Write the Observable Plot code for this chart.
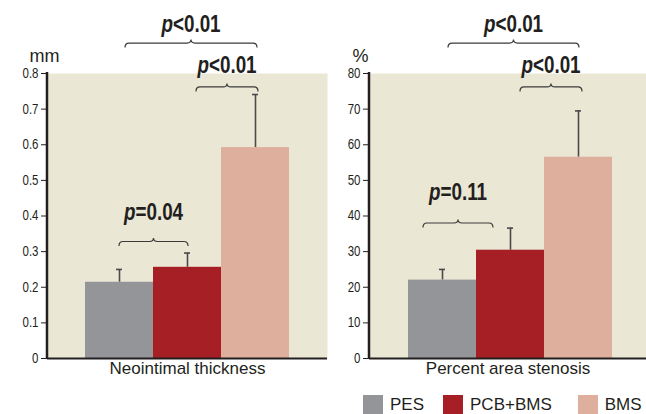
<!DOCTYPE html>
<html>
<head>
<meta charset="utf-8">
<script src="https://cdn.jsdelivr.net/npm/d3@7"></script>
<script src="https://cdn.jsdelivr.net/npm/@observablehq/plot@0.6"></script>
<style>
  html, body { margin: 0; padding: 0; background: #ffffff; }
  #wrap { position: relative; width: 646px; height: 414px; display: flex; overflow: hidden; }
  #wrap > svg { display: block; }
  #legend { position: absolute; left: 363px; top: 395px; width: 283px; white-space: nowrap; }
  #legend div { font: 17px "Liberation Sans", Arial, sans-serif !important; color: #231f20 !important;
                margin: 0 !important; min-height: 0 !important; display: flex !important;
                flex-wrap: nowrap !important; align-items: center !important; }
  #legend span { margin-right: 20px !important; display: inline-flex !important; align-items: center !important; }
  #legend span:nth-of-type(1) { margin-right: 19px !important; }
  #legend span:nth-of-type(2) { margin-right: 26px !important; }
  #legend span > svg { margin-right: 7px !important; }
</style>
</head>
<body>
<div id="wrap"><div id="legend"></div></div>
<script>
// ---------- data ----------
const groups = ["PES", "PCB+BMS", "BMS"];
const colors = ["#939598", "#a61f24", "#dfaf9d"];

const thicknessMean = [0.214, 0.256, 0.592];
const thicknessSD   = [0.036, 0.040, 0.149];
const thicknessTicks = [0, 0.1, 0.2, 0.3, 0.4, 0.5, 0.6, 0.7, 0.8];
const thicknessUnit = "mm";
const thicknessTitle = "Neointimal thickness";

const stenosisMean = [22.0, 30.4, 56.5];
const stenosisSD   = [3.0, 6.2, 13.0];
const stenosisTicks = [0, 10, 20, 30, 40, 50, 60, 70, 80];
const stenosisUnit = "%";
const stenosisTitle = "Percent area stenosis";

// comparisons: from group, to group, bracket level, label level, operator text
const thicknessFrom  = ["PES", "PCB+BMS", "PES"];
const thicknessTo    = ["BMS", "BMS", "PCB+BMS"];
const thicknessBrace = [0.884, 0.761, 0.327];
const thicknessLabY  = [0.915, 0.800, 0.387];
const thicknessP     = ["<0.01", "<0.01", "=0.04"];

const stenosisFrom  = ["PES", "PCB+BMS", "PES"];
const stenosisTo    = ["BMS", "BMS", "PCB+BMS"];
const stenosisBrace = [88.4, 76.1, 37.9];
const stenosisLabY  = [91.5, 80.0, 44.4];
const stenosisP     = ["<0.01", "<0.01", "=0.11"];

// ---------- layout (pixel nudges of bracket ends) ----------
const thicknessNudge = [[6, 2], [9, 3], [0, 1]];
const stenosisNudge  = [[6, 1], [10, 4], [-19, -17]];

const INK = "#231f20";
const ERR = "#4a4a4c";
const BG  = "#ebe7d5";
const NARROW = 0.82;

function rows(means, sds) {
  return groups.map((g, i) => ({group: g, value: means[i], sd: sds[i]}));
}
function braceRows(from, to, by, ly, p) {
  return from.map((f, i) => ({from: f, to: to[i], y: by[i], ly: ly[i], p: p[i]}));
}

// custom mark: curly brackets + p labels, positioned via Plot scales
function braceMark(list, nudges) {
  return (index, scales) => {
    const x = scales.x, y = scales.y;
    const bw = x.bandwidth ? x.bandwidth() : 0;
    const g = d3.create("svg:g");
    list.forEach((b, i) => {
      const n = nudges[i];
      const x0 = x(b.from) + bw / 2 + n[0];
      const x1 = x(b.to) + bw / 2 + n[1];
      const xm = (x0 + x1) / 2;
      const yy = y(b.y);
      const r = 4;
      const d = `M${x0},${yy + 4.5} Q${x0},${yy} ${x0 + r},${yy} L${xm - r},${yy} ` +
                `Q${xm},${yy} ${xm},${yy - 3.5} Q${xm},${yy} ${xm + r},${yy} ` +
                `L${x1 - r},${yy} Q${x1},${yy} ${x1},${yy + 4.5}`;
      g.append("path").attr("d", d).attr("fill", "none")
        .attr("stroke", "#3a3a3a").attr("stroke-width", 1.2);
      const t = g.append("text")
        .attr("transform", `translate(${xm},${y(b.ly)}) scale(${NARROW},1)`)
        .attr("text-anchor", "middle")
        .attr("font-family", "'Liberation Sans', Arial, sans-serif")
        .attr("font-weight", "bold")
        .attr("font-size", 23)
        .attr("fill", INK);
      t.append("tspan").attr("font-style", "italic").text("p");
      t.append("tspan").text(b.p);
    });
    return g.node();
  };
}

// custom mark: vertical axis line at the frame's left edge
function axisLine() {
  return (index, scales, values, dims) => {
    const {marginLeft, marginTop, height, marginBottom} = dims;
    return d3.create("svg:line")
      .attr("x1", marginLeft).attr("x2", marginLeft)
      .attr("y1", marginTop - 1).attr("y2", height - marginBottom + 1)
      .attr("stroke", INK).attr("stroke-width", 2.5).node();
  };
}

// condense tick labels horizontally (no narrow font installed)
function condenseTicks(svg) {
  svg.querySelectorAll('g[aria-label="y-axis tick label"] text').forEach(t => {
    const tr = t.getAttribute("transform");
    if (tr && tr.includes("translate")) {
      t.setAttribute("transform", tr + ` scale(${NARROW},1)`);
    } else {
      const x = +(t.getAttribute("x") || 0), y = +(t.getAttribute("y") || 0);
      t.removeAttribute("x"); t.removeAttribute("y");
      t.setAttribute("transform", `translate(${x},${y}) scale(${NARROW},1)` + (tr ? " " + tr : ""));
    }
  });
  return svg;
}

function panel({data, ticks, unit, title, braces, nudges, width, marginLeft, padOuter, align, unitDx, fmt}) {
  const ymax = ticks[ticks.length - 1];
  return condenseTicks(Plot.plot({
    width, height: 414,
    marginLeft, marginRight: 0, marginTop: 73, marginBottom: 56,
    style: {background: "transparent", overflow: "visible", fontFamily: "'Liberation Sans', Arial, sans-serif"},
    x: {type: "band", domain: groups, paddingInner: 0, paddingOuter: padOuter, align, axis: null},
    y: {domain: [0, ymax], axis: null},
    color: {domain: groups, range: colors},
    marks: [
      Plot.frame({fill: BG, stroke: null}),
      Plot.ruleX(data, {x: "group", y1: "value", y2: d => d.value + d.sd, stroke: ERR, strokeWidth: 1.6}),
      Plot.tickY(data, {x: "group", y: d => d.value + d.sd, stroke: ERR, strokeWidth: 1.6, inset: 31}),
      Plot.barY(data, {x: "group", y: "value", fill: "group"}),
      Plot.ruleY([0], {stroke: INK, strokeWidth: 2}),
      Plot.axisY(ticks, {tickSize: 6, tickPadding: 3, tickFormat: fmt, label: null,
        stroke: INK, color: INK, fontSize: 14}),
      axisLine(),
      Plot.text([unit], {text: d => d, frameAnchor: "top-left", dx: unitDx, dy: -24,
        fontSize: 18, fontFamily: "'Liberation Sans', Arial, sans-serif", fill: INK}),
      Plot.text([title], {text: d => d, frameAnchor: "bottom", dy: 15,
        fontSize: 17, fontFamily: "'Liberation Sans', Arial, sans-serif", fill: INK}),
      braceMark(braces, nudges)
    ]
  }));
}

const wrap = document.getElementById("wrap");

const left = panel({
  data: rows(thicknessMean, thicknessSD),
  ticks: thicknessTicks, unit: thicknessUnit, title: thicknessTitle,
  braces: braceRows(thicknessFrom, thicknessTo, thicknessBrace, thicknessLabY, thicknessP),
  nudges: thicknessNudge,
  width: 327, marginLeft: 47, padOuter: 0.55, align: 0.5, unitDx: -18,
  fmt: d => d === 0 ? "0" : d.toFixed(1)
});

const right = panel({
  data: rows(stenosisMean, stenosisSD),
  ticks: stenosisTicks, unit: stenosisUnit, title: stenosisTitle,
  braces: braceRows(stenosisFrom, stenosisTo, stenosisBrace, stenosisLabY, stenosisP),
  nudges: stenosisNudge,
  width: 319, marginLeft: 42, padOuter: 0.52, align: 0.53, unitDx: -17,
  fmt: d => String(d)
});

wrap.insertBefore(left, wrap.firstChild);
wrap.insertBefore(right, document.getElementById("legend"));

const legend = Plot.legend({
  color: {type: "ordinal", domain: groups, range: colors},
  swatchWidth: 20, swatchHeight: 20,
  className: "lg"
});
document.getElementById("legend").appendChild(legend);
</script>
</body>
</html>
